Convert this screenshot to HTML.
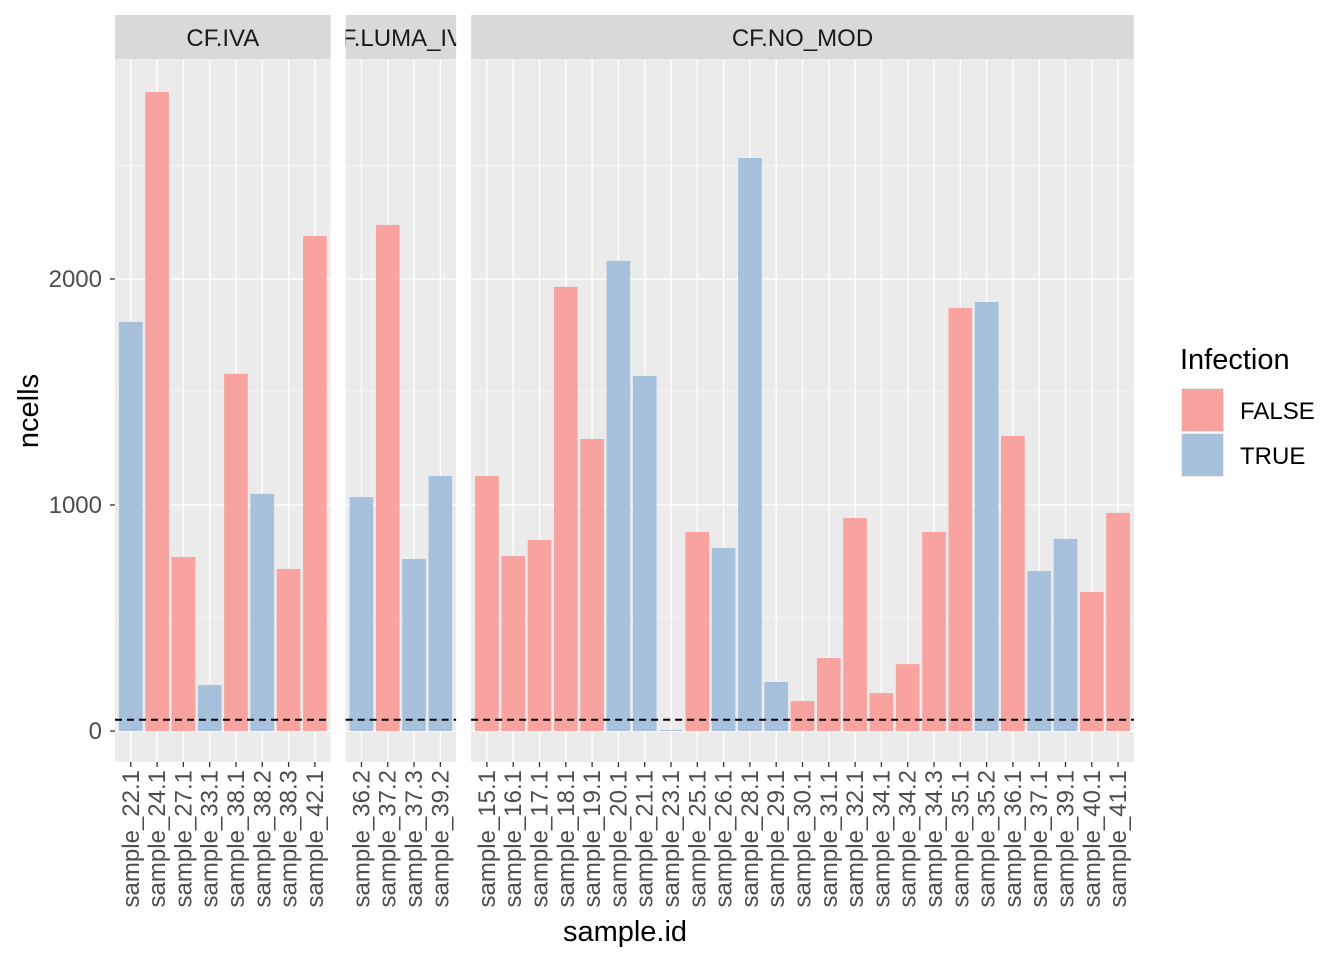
<!DOCTYPE html>
<html><head><meta charset="utf-8"><style>body{margin:0;background:#fff}svg{display:block;font-family:"Liberation Sans",Arial,sans-serif}</style></head>
<body>
<svg id="chart" width="1344" height="960"></svg>
<script>
const panelNames = ["CF.IVA", "CF.LUMA_IVA", "CF.NO_MOD"];
const panelSamples = [
  ["sample_22.1","sample_24.1","sample_27.1","sample_33.1","sample_38.1","sample_38.2","sample_38.3","sample_42.1"],
  ["sample_36.2","sample_37.2","sample_37.3","sample_39.2"],
  ["sample_15.1","sample_16.1","sample_17.1","sample_18.1","sample_19.1","sample_20.1","sample_21.1","sample_23.1","sample_25.1","sample_26.1","sample_28.1","sample_29.1","sample_30.1","sample_31.1","sample_32.1","sample_34.1","sample_34.2","sample_34.3","sample_35.1","sample_35.2","sample_36.1","sample_37.1","sample_39.1","sample_40.1","sample_41.1"]
];
const panelValues = [
  [1810,2827,770,204,1580,1049,717,2190],
  [1035,2239,761,1128],
  [1128,774,845,1965,1292,2080,1571,4,880,810,2535,217,133,323,942,168,296,880,1872,1898,1305,708,850,615,965]
];
const panelInfection = [
  [true,false,false,true,false,true,false,false],
  [true,false,true,true],
  [false,false,false,false,false,true,true,true,false,true,true,true,false,false,false,false,false,false,false,true,false,true,true,false,false]
];
const yTicks = [0,1000,2000];
const yMinor = [500,1500,2500];
const threshold = 50;

const NS="http://www.w3.org/2000/svg";
const svg=document.getElementById('chart');
function mk(tag,attrs,parent){const e=document.createElementNS(NS,tag);for(const k in attrs)e.setAttribute(k,attrs[k]);(parent||svg).appendChild(e);return e;}
const topY=59,bottomY=762,vMin=-137,vMax=2973;
const y=v=>bottomY-(v-vMin)/(vMax-vMin)*(bottomY-topY);
const step=26.3, pad=0.6*step;
const FALSEC="#F8A39F", TRUEC="#A7C1DD";
const FS=24;
let x0=115;
const defs=mk('defs',{});
panelNames.forEach((pn,pi)=>{
  const n=panelSamples[pi].length;
  const w=(n-1+1.2)*step;
  const g=mk('g',{});
  
  
  mk('rect',{x:x0,y:topY,width:w,height:bottomY-topY,fill:'#EBEBEB'},g);
  yMinor.forEach(v=>mk('line',{x1:x0,x2:x0+w,y1:y(v),y2:y(v),stroke:'#fff','stroke-width':0.6},g));
  yTicks.forEach(v=>mk('line',{x1:x0,x2:x0+w,y1:y(v),y2:y(v),stroke:'#fff','stroke-width':1.3},g));
  const xc=i=>x0+pad+i*step;
  panelSamples[pi].forEach((s,i)=>mk('line',{x1:xc(i),x2:xc(i),y1:topY,y2:bottomY,stroke:'#fff','stroke-width':1.3},g));
  panelValues[pi].forEach((v,i)=>{
    const b=mk('rect',{x:xc(i)-0.45*step,width:0.9*step,y:Math.min(y(v),y(0)),height:Math.abs(y(0)-y(v)),fill:panelInfection[pi][i]?TRUEC:FALSEC},g);
    
    
  });
  mk('line',{x1:x0,x2:x0+w,y1:y(threshold),y2:y(threshold),stroke:'#000','stroke-width':2,'stroke-dasharray':'7,5'},g);
  const cid='clip'+pi;
  const cp=mk('clipPath',{id:cid},defs);mk('rect',{x:x0,y:15,width:w,height:44},cp);
  const st=mk('rect',{x:x0,y:15,width:w,height:44,fill:'#D9D9D9'},g);
  
  
  const t=mk('text',{x:x0+w/2,y:46,'text-anchor':'middle','font-size':FS,fill:'#1a1a1a','clip-path':'url(#'+cid+')'},g);
  t.textContent=pn;
  panelSamples[pi].forEach((s,i)=>{
    mk('line',{x1:xc(i),x2:xc(i),y1:bottomY,y2:bottomY+5,stroke:'#333','stroke-width':1.3},g);
    const l=mk('text',{x:0,y:0,transform:`translate(${xc(i)+8},${bottomY+8}) rotate(-90)`,'text-anchor':'end','font-size':FS,fill:'#4d4d4d'},g);
    
    
    l.textContent=s;
  });
  x0+=w+15;
});
yTicks.forEach(v=>{
  mk('line',{x1:110,x2:115,y1:y(v),y2:y(v),stroke:'#333','stroke-width':1.3});
  const t=mk('text',{x:102,y:y(v)+8,'text-anchor':'end','font-size':FS,fill:'#4d4d4d'});
  
  
  t.textContent=v;
});
const xt=mk('text',{x:625,y:941,'text-anchor':'middle','font-size':29,fill:'#000'});
xt.textContent='sample.id';
const yt=mk('text',{x:0,y:0,transform:'translate(38,411) rotate(-90)','text-anchor':'middle','font-size':29,fill:'#000'});
yt.textContent='ncells';
const lg=mk('g',{});
const lt=mk('text',{x:1180,y:369,'font-size':29,fill:'#000'},lg);lt.textContent='Infection';
[["FALSE",FALSEC],["TRUE",TRUEC]].forEach((d,i)=>{
  const e=mk('g',{},lg);
  
  
  mk('rect',{x:1181,y:388+i*45,width:43,height:44,fill:'#EBEBEB'},e);
  mk('rect',{x:1182,y:389+i*45,width:41,height:42,fill:d[1]},e);
  const t=mk('text',{x:1240,y:419+i*45,'font-size':FS,fill:'#000'},e);t.textContent=d[0];
});
</script>
</body></html>
